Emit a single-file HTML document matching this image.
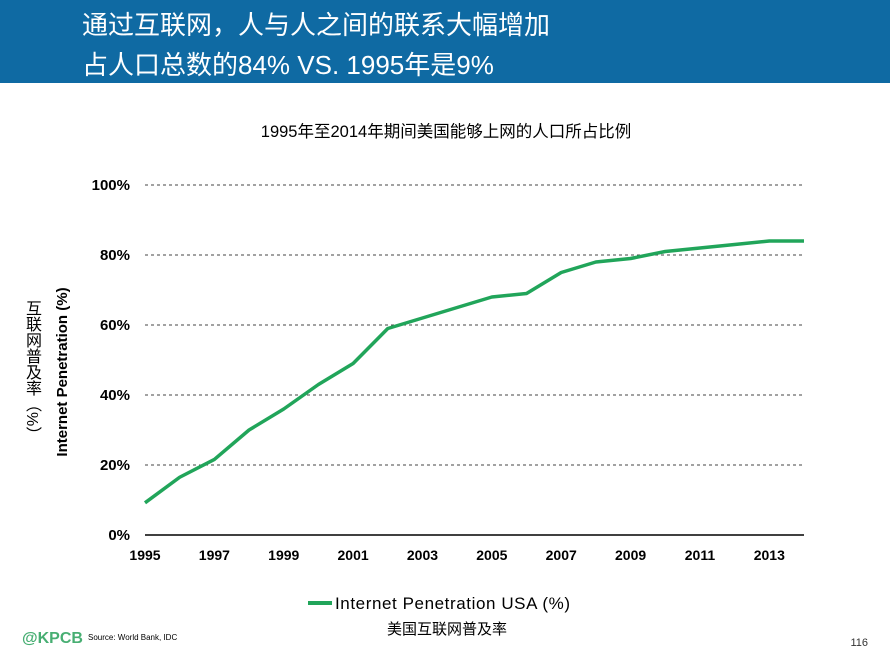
<!DOCTYPE html>
<html><head><meta charset="utf-8"><style>
body{margin:0;width:890px;height:668px;background:#fff;overflow:hidden;position:relative;font-family:"Liberation Sans","Noto Sans CJK SC",sans-serif}
#hdr{position:absolute;left:0;top:0;width:890px;height:83px;background:#0f6aa3}
.t{position:absolute;color:#fff;font-size:26px;left:82px}
#ycn{position:absolute;left:19px;top:300px;writing-mode:vertical-rl;font-size:16px;letter-spacing:0px;z-index:2}
</style></head><body>
<div id="hdr">
<div class="t" style="top:5px">通过互联网，人与人之间的联系大幅增加</div>
<div class="t" style="top:45px">占人口总数的84% VS. 1995年是9%</div>
</div>
<div id="ycn">互联网普及率（%）</div>
<svg id="chart" width="890" height="668" style="position:absolute;left:0;top:0">
<text x="446" y="137" text-anchor="middle" font-size="16.5" fill="#000">1995年至2014年期间美国能够上网的人口所占比例</text>
<g id="grid"></g><g id="yt"></g><g id="xt"></g>
<text transform="translate(67,372) rotate(-90)" text-anchor="middle" font-size="15" font-weight="bold">Internet Penetration (%)</text>
<polyline id="line" fill="none" stroke="#21a55a" stroke-width="3.5" stroke-linejoin="round"/>
<line x1="308" y1="603" x2="332" y2="603" stroke="#21a55a" stroke-width="4"/>
<text x="335" y="609" font-size="17" textLength="235">Internet Penetration USA (%)</text>
<text x="447" y="634" text-anchor="middle" font-size="15">美国互联网普及率</text>
<text x="22" y="643" font-size="16" font-weight="bold" fill="#1a9a50" opacity="0.8">@KPCB</text>
<text x="88" y="640" font-size="8">Source: World Bank, IDC</text>
<text x="868" y="646" text-anchor="end" font-size="11" fill="#333">116</text>
</svg>
<script>
const years=[1995,1996,1997,1998,1999,2000,2001,2002,2003,2004,2005,2006,2007,2008,2009,2010,2011,2012,2013,2014];
const values=[9.2,16.5,21.6,30,36,43,49,59,62,65,68,69,75,78,79,81,82,83,84,84];
const yTicks=[0,20,40,60,80,100];
const xTicks=[1995,1997,1999,2001,2003,2005,2007,2009,2011,2013];
const X=y=>145+(y-1995)*(804-145)/19;
const Y=v=>535-v*3.5;
const NS='http://www.w3.org/2000/svg';
function mk(p,tag,a){const e=document.createElementNS(NS,tag);for(const k in a)e.setAttribute(k,a[k]);document.getElementById(p).appendChild(e);return e;}
yTicks.forEach(v=>{
 if(v>0){const l=mk('grid','line',{x1:145,x2:804,y1:Y(v),y2:Y(v),stroke:'#444','stroke-dasharray':'3,3','stroke-width':1});
 
 }
 const t=mk('yt','text',{x:130,y:Y(v)+5,'text-anchor':'end','font-size':15,'font-weight':'bold'});t.textContent=v+'%';
 
 
});
const ax=mk('grid','line',{x1:145,x2:804,y1:535,y2:535,stroke:'#000','stroke-width':1.5});


xTicks.forEach(y=>{
 const t=mk('xt','text',{x:X(y),y:560,'text-anchor':'middle','font-size':14,'font-weight':'bold'});t.textContent=y;
 
 
});
document.getElementById('line').setAttribute('points',years.map((y,i)=>X(y)+','+Y(values[i])).join(' '));
</script>
</body></html>
